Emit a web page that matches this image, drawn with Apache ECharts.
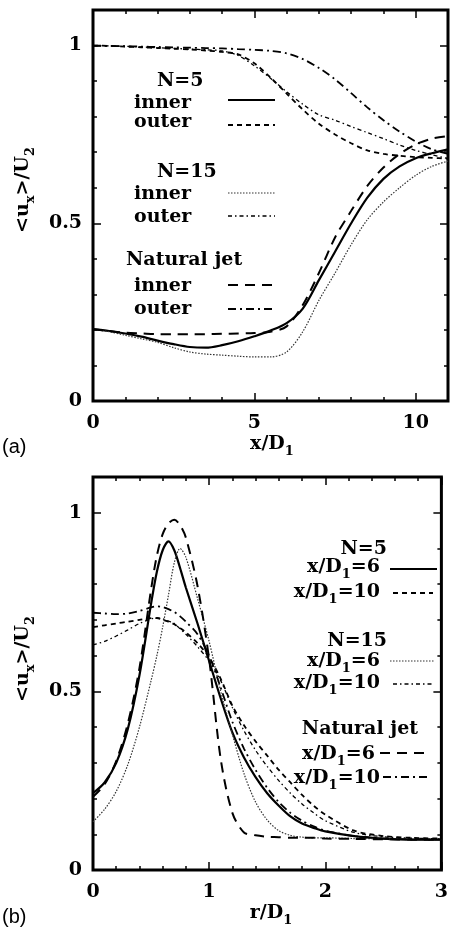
<!DOCTYPE html>
<html>
<head>
<meta charset="utf-8">
<script src="https://cdn.jsdelivr.net/npm/echarts@6/dist/echarts.min.js"></script>
<style>
  html, body { margin: 0; background: #fff; }
  #chart { width: 451px; height: 927px; }
</style>
</head>
<body>
<div id="chart"></div>
<script>
// (a) axial profiles of <ux>/U2 against x/D1
const xA = [0, 0.5, 1, 1.5, 2, 2.5, 3, 3.5, 4, 4.5, 5, 5.5, 6, 6.5, 7, 7.5, 8, 8.5, 9, 9.5, 10, 10.5, 11]
const aN5Inner  = [0.202, 0.197, 0.190, 0.181, 0.170, 0.160, 0.152, 0.150, 0.157, 0.168, 0.182, 0.198, 0.219, 0.260, 0.340, 0.420, 0.500, 0.572, 0.625, 0.660, 0.683, 0.697, 0.708]
const aN5Outer  = [1.000, 0.999, 0.997, 0.995, 0.993, 0.991, 0.989, 0.986, 0.982, 0.975, 0.950, 0.910, 0.865, 0.820, 0.780, 0.750, 0.725, 0.705, 0.695, 0.690, 0.686, 0.684, 0.682]
const aN15Inner = [0.202, 0.195, 0.185, 0.175, 0.165, 0.150, 0.138, 0.132, 0.129, 0.126, 0.124, 0.124, 0.138, 0.195, 0.283, 0.360, 0.440, 0.510, 0.560, 0.600, 0.635, 0.660, 0.675]
const aN15Outer = [1.000, 0.999, 0.998, 0.996, 0.994, 0.992, 0.990, 0.988, 0.985, 0.972, 0.943, 0.908, 0.870, 0.835, 0.805, 0.790, 0.772, 0.755, 0.738, 0.720, 0.705, 0.693, 0.682]
const aNatInner = [0.202, 0.197, 0.192, 0.190, 0.188, 0.188, 0.188, 0.188, 0.189, 0.190, 0.191, 0.195, 0.210, 0.270, 0.360, 0.460, 0.535, 0.605, 0.657, 0.695, 0.722, 0.738, 0.745]
const aNatOuter = [1.000, 0.999, 0.998, 0.997, 0.996, 0.995, 0.994, 0.993, 0.992, 0.990, 0.988, 0.985, 0.978, 0.962, 0.937, 0.905, 0.866, 0.826, 0.790, 0.758, 0.730, 0.708, 0.695]

// (b) radial profiles of <ux>/U2 against r/D1
const rB = [0, 0.1, 0.2, 0.3, 0.4, 0.5, 0.55, 0.6, 0.65, 0.7, 0.75, 0.8, 0.9, 1.0, 1.1, 1.2, 1.3, 1.4, 1.5, 1.6, 1.7, 1.8, 1.9, 2.0, 2.25, 2.5, 2.75, 3.0]
const bN5x6   = [0.215, 0.245, 0.300, 0.395, 0.545, 0.745, 0.835, 0.895, 0.920, 0.895, 0.845, 0.790, 0.690, 0.585, 0.480, 0.385, 0.315, 0.260, 0.215, 0.180, 0.150, 0.130, 0.118, 0.108, 0.095, 0.088, 0.085, 0.085]
const bN5x10  = [0.680, 0.685, 0.690, 0.695, 0.700, 0.705, 0.705, 0.700, 0.695, 0.688, 0.677, 0.665, 0.635, 0.595, 0.535, 0.460, 0.405, 0.360, 0.320, 0.280, 0.245, 0.210, 0.180, 0.155, 0.110, 0.095, 0.090, 0.088]
const bN15x6  = [0.135, 0.170, 0.220, 0.295, 0.400, 0.530, 0.600, 0.680, 0.770, 0.860, 0.900, 0.875, 0.760, 0.640, 0.500, 0.380, 0.270, 0.190, 0.140, 0.110, 0.097, 0.092, 0.090, 0.090, 0.088, 0.087, 0.085, 0.085]
const bN15x10 = [0.630, 0.640, 0.655, 0.672, 0.690, 0.703, 0.706, 0.703, 0.697, 0.690, 0.675, 0.660, 0.625, 0.585, 0.530, 0.455, 0.390, 0.335, 0.290, 0.250, 0.215, 0.185, 0.160, 0.138, 0.105, 0.093, 0.089, 0.087]
const bNatx6  = [0.205, 0.240, 0.305, 0.410, 0.565, 0.785, 0.880, 0.940, 0.970, 0.980, 0.965, 0.930, 0.795, 0.590, 0.310, 0.160, 0.105, 0.097, 0.093, 0.092, 0.090, 0.090, 0.090, 0.088, 0.087, 0.086, 0.085, 0.085]
const bNatx10 = [0.720, 0.718, 0.716, 0.718, 0.725, 0.735, 0.738, 0.736, 0.730, 0.722, 0.710, 0.695, 0.660, 0.600, 0.510, 0.415, 0.340, 0.280, 0.230, 0.190, 0.160, 0.138, 0.122, 0.110, 0.095, 0.088, 0.086, 0.085]

const FONT = 'DejaVu Serif'
const ST = {
  solid:    { color: '#000', width: 2.2, type: 'solid' },
  dash:     { color: '#000', width: 1.8, type: [5, 4] },
  dot:      { color: '#333', width: 1.2, type: [1.5, 1.5] },
  dashdot:  { color: '#000', width: 1.3, type: [4, 3, 1.5, 3] },
  longdash: { color: '#000', width: 2.0, type: [10, 7] },
  longdd:   { color: '#000', width: 1.8, type: [8, 4, 2, 4] },
}

const tickStyle = { color: '#000', width: 1.5 }
const labelFont = { fontFamily: FONT, fontWeight: 'bold', fontSize: 19, color: '#000' }

function halfStep(v) { return Math.abs(v * 2 - Math.round(v * 2)) < 1e-9 }

function xAxes(grid, max, major, minor, fmt) {
  const base = { type: 'value', gridIndex: grid, min: 0, max, axisLine: { show: false, onZero: false }, splitLine: { show: false } }
  return [
    { ...base, position: 'bottom', interval: major, axisTick: { inside: true, length: 8, lineStyle: tickStyle },
      axisLabel: { ...labelFont, margin: 13, formatter: fmt } },
    { ...base, position: 'bottom', interval: minor, axisTick: { inside: true, length: 4, lineStyle: tickStyle }, axisLabel: { show: false } },
    { ...base, position: 'top', interval: major, axisTick: { inside: true, length: 8, lineStyle: tickStyle }, axisLabel: { show: false } },
    { ...base, position: 'top', interval: minor, axisTick: { inside: true, length: 4, lineStyle: tickStyle }, axisLabel: { show: false } },
  ]
}
function yAxes(grid) {
  const base = { type: 'value', gridIndex: grid, min: 0, max: 1.1, axisLine: { show: false, onZero: false }, splitLine: { show: false } }
  return [
    { ...base, position: 'left', interval: 0.5, axisTick: { inside: true, length: 8, lineStyle: tickStyle },
      axisLabel: { ...labelFont, margin: 11, formatter: v => (halfStep(v) ? String(v) : '') } },
    { ...base, position: 'left', interval: 0.1, axisTick: { inside: true, length: 4, lineStyle: tickStyle }, axisLabel: { show: false } },
    { ...base, position: 'right', interval: 0.5, axisTick: { inside: true, length: 8, lineStyle: tickStyle }, axisLabel: { show: false } },
    { ...base, position: 'right', interval: 0.1, axisTick: { inside: true, length: 4, lineStyle: tickStyle }, axisLabel: { show: false } },
  ]
}

function curve(name, xs, ys, st, axis) {
  return {
    name, type: 'line', xAxisIndex: axis, yAxisIndex: axis,
    data: xs.map((x, i) => [x, ys[i]]),
    showSymbol: false, smooth: 0.3, silent: true,
    lineStyle: { ...st },
  }
}

const rich = {
  m: { fontFamily: FONT, fontWeight: 'bold', fontSize: 19, lineHeight: 28, verticalAlign: 'middle', fill: '#000' },
  s: { fontFamily: FONT, fontWeight: 'bold', fontSize: 13, lineHeight: 16, verticalAlign: 'bottom', fill: '#000' },
}
function txt(text, x, y, align, extra) {
  return { type: 'text', x, y, silent: true, ...(extra || {}),
    style: { text, rich, align, verticalAlign: 'middle', fill: '#000' } }
}
function sample(x1, x2, y, st) {
  return { type: 'line', silent: true, shape: { x1, y1: y, x2, y2: y },
    style: { stroke: st.color, lineWidth: st.width, lineDash: Array.isArray(st.type) ? st.type : null } }
}
const xD = n => '{m|x/D}{s|1}{m|=' + n + '}'

const graphics = [
  // panel (a) key
  txt('{m|N=5}', 157, 81, 'left'),
  txt('{m|inner}', 134, 103, 'left'), sample(228, 275, 100, ST.solid),
  txt('{m|outer}', 134, 122, 'left'), sample(228, 275, 125, ST.dash),
  txt('{m|N=15}', 157, 172, 'left'),
  txt('{m|inner}', 134, 194, 'left'), sample(228, 275, 193, ST.dot),
  txt('{m|outer}', 134, 217, 'left'), sample(228, 275, 216, ST.dashdot),
  txt('{m|Natural jet}', 126, 260, 'left'),
  txt('{m|inner}', 134, 286, 'left'), sample(228, 275, 285, ST.longdash),
  txt('{m|outer}', 134, 309, 'left'), sample(228, 275, 309, ST.longdd),
  // panel (b) key
  txt('{m|N=5}', 387, 549, 'right'),
  txt(xD(6), 380, 567, 'right'), sample(390, 437, 569, ST.solid),
  txt(xD(10), 380, 592, 'right'), sample(393, 433, 593, ST.dash),
  txt('{m|N=15}', 387, 641, 'right'),
  txt(xD(6), 380, 661, 'right'), sample(390, 435, 661, ST.dot),
  txt(xD(10), 380, 683, 'right'), sample(393, 433, 684, ST.dashdot),
  txt('{m|Natural jet}', 418, 729, 'right'),
  txt(xD(6), 375, 754, 'right'), sample(380, 428, 753, ST.longdash),
  txt(xD(10), 380, 778, 'right'), sample(383, 428, 777, ST.longdd),
  // axis titles
  txt('{m|<u}{s|x}{m|>/U}{s|2}', 23, 190, 'center', { rotation: Math.PI / 2 }),
  txt('{m|<u}{s|x}{m|>/U}{s|2}', 23, 659, 'center', { rotation: Math.PI / 2 }),
  txt('{m|x/D}{s|1}', 272, 444, 'center'),
  txt('{m|r/D}{s|1}', 271, 913, 'center'),
  { type: 'text', x: 2, y: 447, silent: true,
    style: { text: '(a)', font: '20px "Liberation Sans"', fill: '#000', align: 'left', verticalAlign: 'middle' } },
  { type: 'text', x: 2, y: 917, silent: true,
    style: { text: '(b)', font: '20px "Liberation Sans"', fill: '#000', align: 'left', verticalAlign: 'middle' } },
]

const chart = echarts.init(document.getElementById('chart'))
chart.setOption({
  animation: false,
  backgroundColor: '#fff',
  grid: [
    { left: 93, top: 10, width: 360.5, height: 391, show: true, borderColor: '#000', borderWidth: 3 },
    { left: 93, top: 477, width: 356, height: 393, show: true, borderColor: '#000', borderWidth: 3 },
  ],
  xAxis: [
    ...xAxes(0, 11, 5, 1, v => (v % 5 === 0 ? String(v) : '')),
    ...xAxes(1, 3, 1, 0.2, v => String(v)),
  ],
  yAxis: [...yAxes(0), ...yAxes(1)],
  series: [
    curve('N=5 inner', xA, aN5Inner, ST.solid, 0),
    curve('N=5 outer', xA, aN5Outer, ST.dash, 0),
    curve('N=15 inner', xA, aN15Inner, ST.dot, 0),
    curve('N=15 outer', xA, aN15Outer, ST.dashdot, 0),
    curve('Natural jet inner', xA, aNatInner, ST.longdash, 0),
    curve('Natural jet outer', xA, aNatOuter, ST.longdd, 0),
    curve('N=5 x/D1=6', rB, bN5x6, ST.solid, 4),
    curve('N=5 x/D1=10', rB, bN5x10, ST.dash, 4),
    curve('N=15 x/D1=6', rB, bN15x6, ST.dot, 4),
    curve('N=15 x/D1=10', rB, bN15x10, ST.dashdot, 4),
    curve('Natural jet x/D1=6', rB, bNatx6, ST.longdash, 4),
    curve('Natural jet x/D1=10', rB, bNatx10, ST.longdd, 4),
  ],
  graphic: graphics,
})
</script>
</body>
</html>
